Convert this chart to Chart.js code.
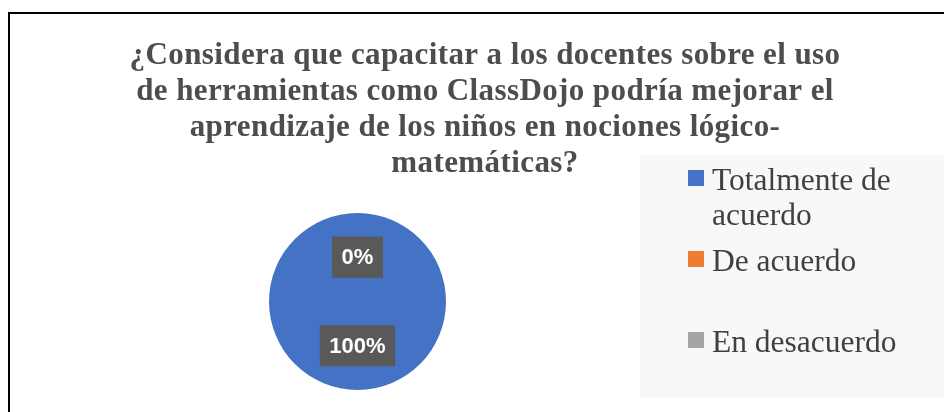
<!DOCTYPE html>
<html>
<head>
<meta charset="utf-8">
<script src="https://cdn.jsdelivr.net/npm/chart.js@4"></script>
<style>
  html, body { margin: 0; padding: 0; background: #fff; }
  #wrap { width: 944px; height: 412px; position: relative; }
</style>
</head>
<body>
<div id="wrap"><canvas id="pieChart"></canvas></div>
<script>
// Chart data
const titleLines = [
  '¿Considera que capacitar a los docentes sobre el uso',
  'de herramientas como ClassDojo podría mejorar el',
  'aprendizaje de los niños en nociones lógico-',
  'matemáticas?'
];
const categories = ['Totalmente de acuerdo', 'De acuerdo', 'En desacuerdo'];
const legendLines = [['Totalmente de', 'acuerdo'], ['De acuerdo'], ['En desacuerdo']];
const values = [100, 0, 0];
const colors = ['#4472C4', '#ED7D31', '#A5A5A5'];

// Frame, title, legend and percentage labels drawn on the canvas
const decorations = {
  id: 'decorations',
  beforeDraw(chart) {
    const ctx = chart.ctx;
    ctx.save();
    ctx.fillStyle = '#fff';
    ctx.fillRect(0, 0, chart.width, chart.height);
    // legend background
    ctx.fillStyle = '#f8f8f8';
    ctx.fillRect(640, 155, 320, 243);
    ctx.restore();
  },
  afterDraw(chart) {
    const ctx = chart.ctx;
    ctx.save();

    // outer border
    ctx.strokeStyle = '#000';
    ctx.lineWidth = 2;
    ctx.strokeRect(9, 13, 960, 420);

    // title
    ctx.fillStyle = '#4d4d4d';
    ctx.font = 'bold 31px "Liberation Serif"';
    ctx.letterSpacing = '0.4px';
    ctx.textAlign = 'center';
    ctx.textBaseline = 'alphabetic';
    titleLines.forEach((line, i) => {
      ctx.fillText(line, 485, 64 + i * 36);
    });
    ctx.letterSpacing = '0px';

    // legend
    const itemTop = [170, 251, 332];
    ctx.font = '31.5px "Liberation Serif"';
    ctx.textAlign = 'left';
    categories.forEach((cat, i) => {
      ctx.fillStyle = colors[i];
      ctx.fillRect(688, itemTop[i], 16, 16);
      ctx.fillStyle = '#404040';
      legendLines[i].forEach((line, j) => {
        ctx.fillText(line, 712, itemTop[i] + 20 + j * 35);
      });
    });

    // percentage labels
    const meta = chart.getDatasetMeta(0);
    const total = values.reduce((a, b) => a + b, 0);
    ctx.font = 'bold 22px "Liberation Sans"';
    ctx.textAlign = 'center';
    ctx.textBaseline = 'middle';
    meta.data.forEach((arc, i) => {
      const p = arc.tooltipPosition(true);
      const text = Math.round(values[i] / total * 100) + '%';
      const w = ctx.measureText(text).width + 19;
      const h = 41;
      ctx.fillStyle = '#595959';
      ctx.fillRect(p.x - w / 2, p.y - h / 2, w, h);
      ctx.fillStyle = '#fff';
      ctx.fillText(text, p.x, p.y + 1);
    });

    ctx.restore();
  }
};

const ctx = document.getElementById('pieChart').getContext('2d');
const pieChart = new Chart(ctx, {
  type: 'pie',
  data: {
    labels: categories,
    datasets: [{
      data: values,
      backgroundColor: colors,
      borderWidth: 0
    }]
  },
  options: {
    responsive: true,
    maintainAspectRatio: false,
    animation: false,
    layout: {
      padding: { top: 213, bottom: 22, left: 269, right: 498 }
    },
    plugins: {
      legend: { display: false },
      title: { display: false },
      tooltip: { enabled: false }
    }
  },
  plugins: [decorations]
});
</script>
</body>
</html>
